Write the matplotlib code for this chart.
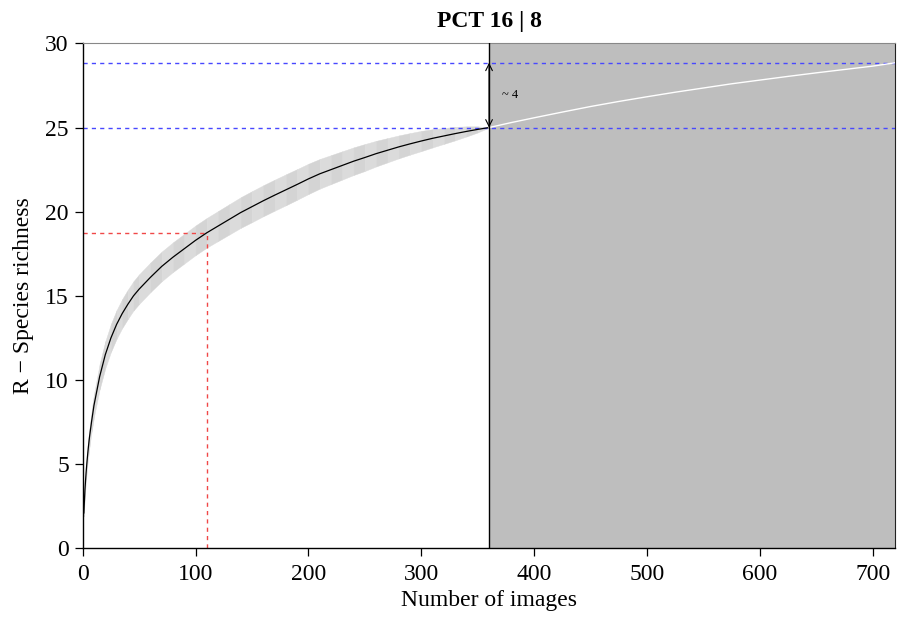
import numpy as np
import matplotlib
matplotlib.use('Agg')
import matplotlib.pyplot as plt

n_obs = [1, 2, 3, 4, 5, 6, 8, 10, 15, 20, 25, 30, 35, 40, 45, 50, 60, 70,
         80, 90, 100, 110, 120, 130, 140, 150, 160, 170, 180, 190, 200, 210,
         220, 230, 240, 250, 260, 270, 280, 290, 300, 310, 320, 330, 340,
         350, 360]
rich_obs = [2.1, 3.5, 4.5, 5.3, 6.0, 6.6, 7.6, 8.5, 10.2, 11.5, 12.5, 13.3,
            13.95, 14.5, 15.0, 15.4, 16.1, 16.75, 17.3, 17.8, 18.3, 18.75,
            19.15, 19.55, 19.95, 20.3, 20.65, 20.98, 21.3, 21.62, 21.95,
            22.25, 22.5, 22.75, 23.0, 23.22, 23.45, 23.65, 23.85, 24.03,
            24.2, 24.36, 24.5, 24.64, 24.77, 24.89, 25.0]
ci_obs = [0.2, 0.3, 0.38, 0.45, 0.5, 0.55, 0.62, 0.68, 0.75, 0.8, 0.83,
          0.85, 0.86, 0.87, 0.87, 0.88, 0.88, 0.88, 0.88, 0.88, 0.88, 0.88,
          0.89, 0.9, 0.91, 0.92, 0.92, 0.92, 0.92, 0.91, 0.9, 0.88, 0.86,
          0.84, 0.82, 0.8, 0.76, 0.72, 0.68, 0.64, 0.6, 0.54, 0.47, 0.4,
          0.3, 0.18, 0.0]

# extrapolated part
n_ext = [360, 380, 400, 425, 450, 475, 500, 525, 550, 575, 600, 625, 650,
         675, 700, 720]
rich_ext = [25.0, 25.3, 25.58, 25.92, 26.25, 26.55, 26.83, 27.1, 27.35,
            27.6, 27.82, 28.04, 28.25, 28.45, 28.65, 28.85]

n_sampled = 360
n_max = 720
s_obs = 25.0
s_est = 28.85
half_n = 110
half_s = 18.75
gain_label = '~ 4'
title = 'PCT 16 | 8'

plt.rcParams['font.family'] = ['Liberation Serif', 'DejaVu Serif']

fig = plt.figure(figsize=(8.99, 6.18), dpi=100)
ax = fig.add_axes([0.092, 0.1128, 0.904, 0.817])

x = np.array(n_obs, dtype=float)
y = np.array(rich_obs)
ci = np.array(ci_obs)

# confidence band, drawn as faint alternating strips
for i in range(len(x) - 1):
    col = '#D4D4D4' if i % 2 == 0 else '#DBDBDB'
    ax.fill_between(x[i:i + 2], (y - ci)[i:i + 2], (y + ci)[i:i + 2],
                    color=col, linewidth=0.3, edgecolor=col, zorder=1)

ax.plot(n_obs, rich_obs, color='black', lw=0.9, zorder=3)

# unsampled region
ax.axvspan(n_sampled, n_max, color='#BEBEBE', zorder=0.5, lw=0)
ax.plot(n_ext, rich_ext, color='white', lw=1.0, zorder=3)
ax.plot([n_sampled, n_sampled], [0, 30], color='black', lw=1.0, zorder=3)

dash = (0, (3, 3))
ax.plot([0, n_max], [s_est, s_est], color='#4848FF', lw=1.0, ls=dash, zorder=2)
ax.plot([0, n_max], [s_obs, s_obs], color='#4848FF', lw=1.0, ls=dash, zorder=2)
ax.plot([0, half_n], [half_s, half_s], color='#F04848', lw=1.0, ls=dash, zorder=2)
ax.plot([half_n, half_n], [0, half_s], color='#F04848', lw=1.0, ls=dash, zorder=2)

ax.annotate('', xy=(n_sampled, s_est), xytext=(n_sampled, s_obs),
            arrowprops=dict(arrowstyle='<->', color='black', lw=0.8,
                            shrinkA=0, shrinkB=0, mutation_scale=12), zorder=4)
ax.text(n_sampled + 19, (s_obs + s_est) / 2, gain_label, fontsize=9,
        ha='center', va='center')

ax.set_xlim(0, n_max)
ax.set_ylim(0, 30)
ax.set_xticks([0, 100, 200, 300, 400, 500, 600, 700])
ax.set_yticks([0, 5, 10, 15, 20, 25, 30])
ax.tick_params(direction='out', length=6, width=0.9, labelsize=17, pad=4)
ax.tick_params(axis='x', pad=5)

ax.spines['top'].set_color('#888888')
ax.spines['right'].set_color('#222222')
for s in ['left', 'bottom']:
    ax.spines[s].set_linewidth(1.0)

ax.set_xlabel('Number of images', fontsize=17, labelpad=4)
ax.set_ylabel('R \u2212 Species richness', fontsize=17, labelpad=8)
ax.set_title(title, fontsize=17, fontweight='bold', pad=12)

fig.savefig('out.png', dpi=100)
